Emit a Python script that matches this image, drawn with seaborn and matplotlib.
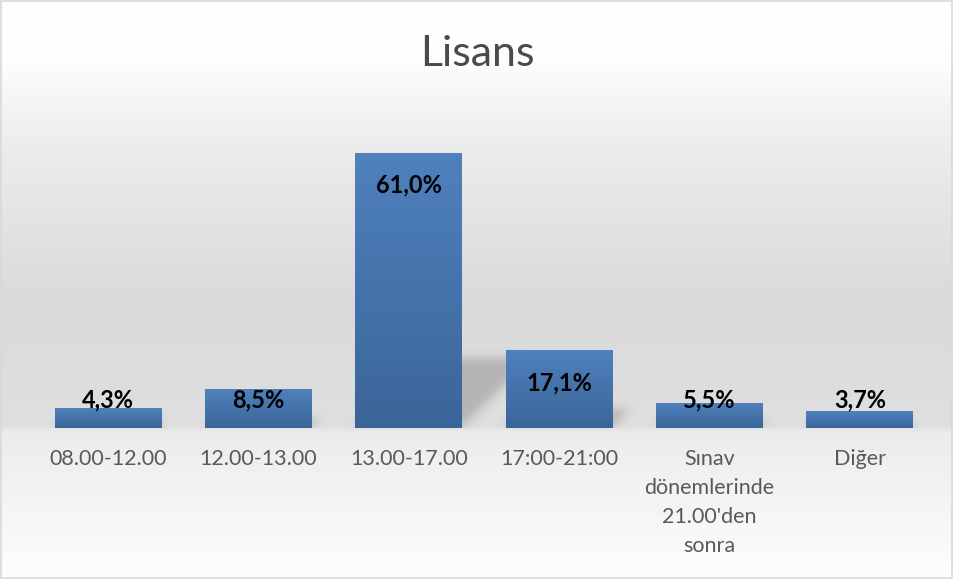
import numpy as np
import pandas as pd
import matplotlib
matplotlib.use("Agg")
import matplotlib.pyplot as plt
from matplotlib.colors import LinearSegmentedColormap
from matplotlib.patches import Rectangle
import seaborn as sns

# data
kategoriler = ["08.00-12.00", "12.00-13.00", "13.00-17.00", "17:00-21:00",
               "Sınav\ndönemlerinde\n21.00'den\nsonra", "Diğer"]
yuzdeler = [4.3, 8.5, 61.0, 17.1, 5.5, 3.7]
etiketler = ["4,3%", "8,5%", "61,0%", "17,1%", "5,5%", "3,7%"]

df = pd.DataFrame({"Saat": kategoriler, "Yuzde": yuzdeler})

sns.set_style("white")
plt.rcParams["font.family"] = ["Lato", "DejaVu Sans"]

W, H = 954, 579
fig = plt.figure(figsize=(W / 100, H / 100), dpi=100)

# background gradient, per pixel row (top -> bottom)
rows = np.arange(H)
shade = np.interp(rows, [0, 60, 140, 300, 426, 432, 579],
                  [1.0, 0.995, 0.93, 0.855, 0.875, 0.925, 0.995])
bg = fig.add_axes([0, 0, 1, 1], zorder=-10)
bg.imshow(np.repeat(shade[:, None, None], 3, axis=2), aspect="auto",
          extent=[0, 1, 0, 1])
bg.set_axis_off()

base_px = 428
ax_l, ax_r = 33, 935
ymax = 70
px_per_unit = 4.508
ax_h = ymax * px_per_unit
ax = fig.add_axes([ax_l / W, 1 - base_px / H, (ax_r - ax_l) / W, ax_h / H])
ax.set_facecolor("none")
sns.barplot(data=df, x="Saat", y="Yuzde", color="#4f81bd", width=0.71, ax=ax,
            saturation=1, zorder=2, linewidth=0, edgecolor="none")

# perspective shadow behind bars (skewed, blurred)
gw, gh = ax_r - ax_l, int(round(ax_h))
mask = np.zeros((gh, gw))
slot = gw / 6
for p in ax.patches:
    xl = (p.get_x() + 0.5) * slot
    xr = (p.get_x() + p.get_width() + 0.5) * slot
    sh = 0.255 * p.get_height() * px_per_unit
    for yp in range(int(sh)):
        a, b = int(xl + yp), int(min(xr + yp, gw))
        mask[yp, a:b] = 1.0
k = np.exp(-0.5 * (np.arange(-15, 16) / 5.0) ** 2)
k /= k.sum()
mask = np.apply_along_axis(lambda r: np.convolve(r, k, mode="same"), 1, mask)
mask = np.apply_along_axis(lambda c: np.convolve(c, k, mode="same"), 0, mask)
shadow = np.zeros((gh, gw, 4))
shadow[..., :3] = 0.45
shadow[..., 3] = mask * 0.38
ax.imshow(shadow, origin="lower", aspect="auto",
          extent=[-0.5, 5.5, 0, gh / px_per_unit], zorder=1)

# gradient fill on bars
cmap = LinearSegmentedColormap.from_list("bar", ["#3a6599", "#4f81bd"])
grad = np.linspace(0, 1, 100).reshape(-1, 1)
for p in ax.patches:
    x, w, h = p.get_x(), p.get_width(), p.get_height()
    ax.imshow(grad, cmap=cmap, aspect="auto", origin="lower",
              extent=[x, x + w, 0, h], zorder=3)

ax.set_xlim(-0.5, 5.5)
ax.set_ylim(0, ymax)

for i, (v, lab) in enumerate(zip(yuzdeler, etiketler)):
    ax.text(i, max(v - 7.1, 6.2), lab, ha="center", va="center",
            fontsize=17, fontweight="bold", color="black", zorder=5)

ax.set_xlabel("")
ax.set_ylabel("")
ax.set_yticks([])
ax.tick_params(axis="x", length=0, pad=15, labelsize=15.5, labelcolor="#595959")
for t in ax.get_xticklabels():
    t.set_linespacing(1.56)
for s in ax.spines.values():
    s.set_visible(False)

fig.text(0.5, 1 - 54 / H, "Lisans", ha="center", va="center", fontsize=31,
         fontweight="normal", color="#4a4a4a")

fig.patches.append(Rectangle((0.001, 0.001), 0.997, 0.997, transform=fig.transFigure,
                             fill=False, edgecolor="#d9d9d9", linewidth=1.2))

fig.savefig("out.png", dpi=100)
